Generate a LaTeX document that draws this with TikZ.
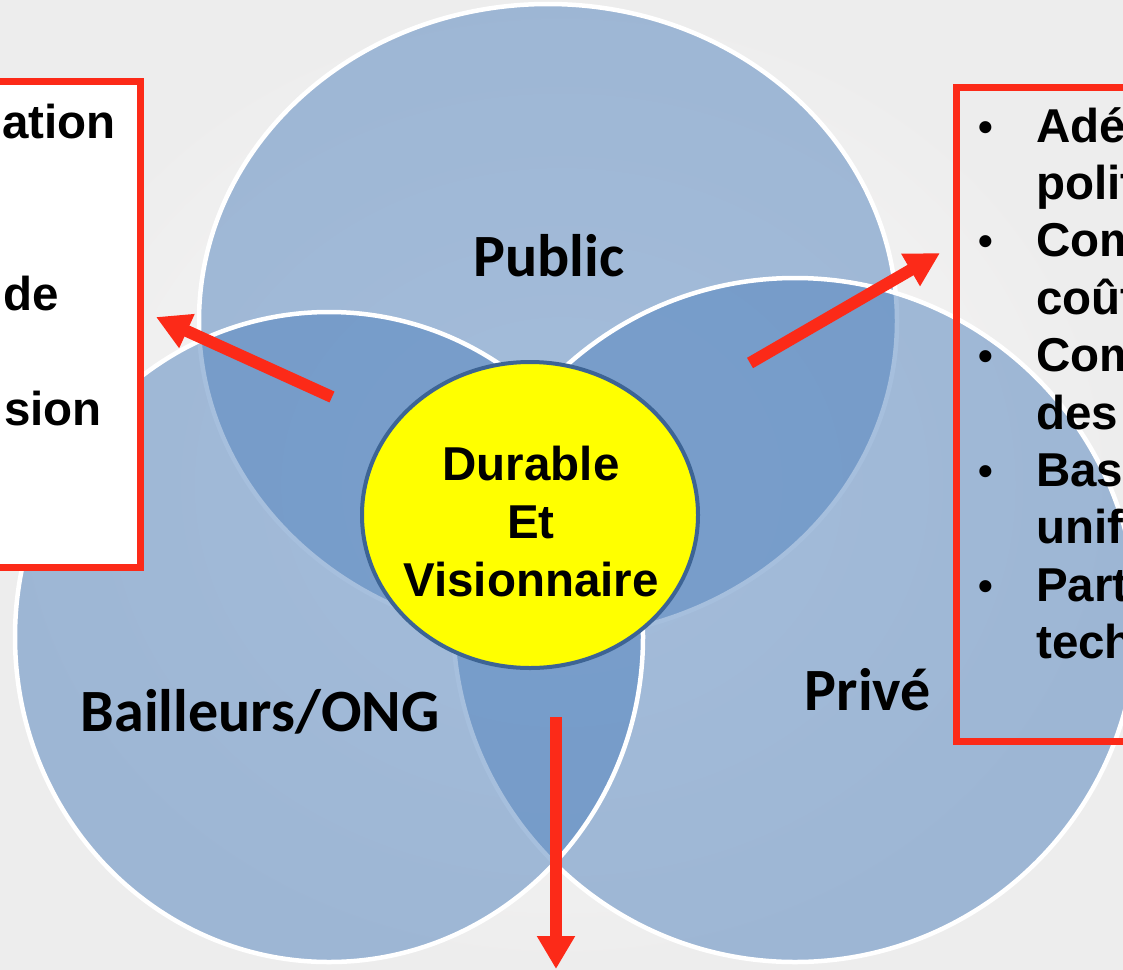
\documentclass[tikz,border=0pt]{standalone}
\usepackage{fontspec}
\setmainfont{Liberation Sans}
\newfontfamily\labelfont{Carlito}
\usetikzlibrary{shapes.geometric,arrows.meta}
\definecolor{bgouter}{HTML}{EDEDED}
\definecolor{bginner}{HTML}{FBFAFA}
\definecolor{venn}{HTML}{4F81BD}
\definecolor{redline}{HTML}{FC2A18}
\definecolor{rimblue}{HTML}{3D6494}
\definecolor{sunyellow}{HTML}{FFFF00}
\begin{document}
\begin{tikzpicture}[x=1pt,y=-1pt,
  vennset/.style={ellipse, inner sep=0pt, fill=venn, fill opacity=0.5,
    draw=white, draw opacity=1, line width=4.5pt},
  setlabel/.style={inner sep=0pt, anchor=base,
    font=\labelfont\bfseries\fontsize{60}{72}\selectfont},
  boxtext/.style={inner sep=0pt, font=\bfseries\fontsize{47.5}{57}\selectfont},
  redbox/.style={draw=redline, line width=7pt},
  redarrow/.style={draw=redline, line width=12pt,
    -{Triangle[length=34pt,width=35pt]}}
]
% canvas and background
\clip (0,0) rectangle (1123,969);
\shade[inner color=bginner, outer color=bgouter] (0,0) rectangle (1123,969);

% the three overlapping sets
\node[vennset, minimum width=698pt, minimum height=634pt] (public) at (548,321) {};
\node[vennset, minimum width=684pt, minimum height=684pt] (prive) at (795,620) {};
\node[vennset, minimum width=628pt, minimum height=650pt] (bailleurs) at (329,637) {};

\node[setlabel] (lpublic) at (549,276) {Public};
\node[setlabel] (lprive) at (868,710) {Privé};
\node[setlabel] (lbailleurs) at (260,731) {Bailleurs/ONG};

% central goal
\node[ellipse, inner sep=0pt, minimum width=336pt, minimum height=306pt,
  fill=sunyellow, draw=rimblue, line width=4pt] (core) at (530,515) {};
\node[boxtext, anchor=base] (core1) at (531,480) {Durable};
\node[boxtext, anchor=base] (core2) at (531,538) {Et};
\node[boxtext, anchor=base] (core3) at (531,596) {Visionnaire};

% left box
\draw[redbox, fill=white] (-20,81) rectangle (140,567);
\node[boxtext, anchor=base east] (lt1) at (116,138) {ation};
\node[boxtext, anchor=base east] (lt2) at (59,310) {de};
\node[boxtext, anchor=base east] (lt3) at (102,425) {sion};

% right box
\draw[redbox] (1140,87) rectangle (956,741);
\foreach \t [count=\i from 0] in {Adé,polit,Com,coût,Com,des,Bas,unif,Part,tech}
  \node[boxtext, anchor=base west] (rt\i) at (1036,{142+57.4*\i}) {\t};
\foreach \k in {0,...,4}
  \node[boxtext, anchor=base, font=\bfseries\fontsize{42}{50}\selectfont] (bul\k) at (986,{141+114.8*\k}) {•};

% arrows
\coordinate (atailL) at (332,397);
\coordinate (atipL) at (156,317);
\coordinate (atailR) at (750,363);
\coordinate (atipR) at (940,253);
\coordinate (atailD) at (556,717);
\coordinate (atipD) at (556,969);
\draw[redarrow] (atailL) -- (atipL);
\draw[redarrow] (atailR) -- (atipR);
\draw[redarrow, -{Triangle[length=33pt,width=36pt]}] (atailD) -- (atipD);
\end{tikzpicture}
\end{document}
